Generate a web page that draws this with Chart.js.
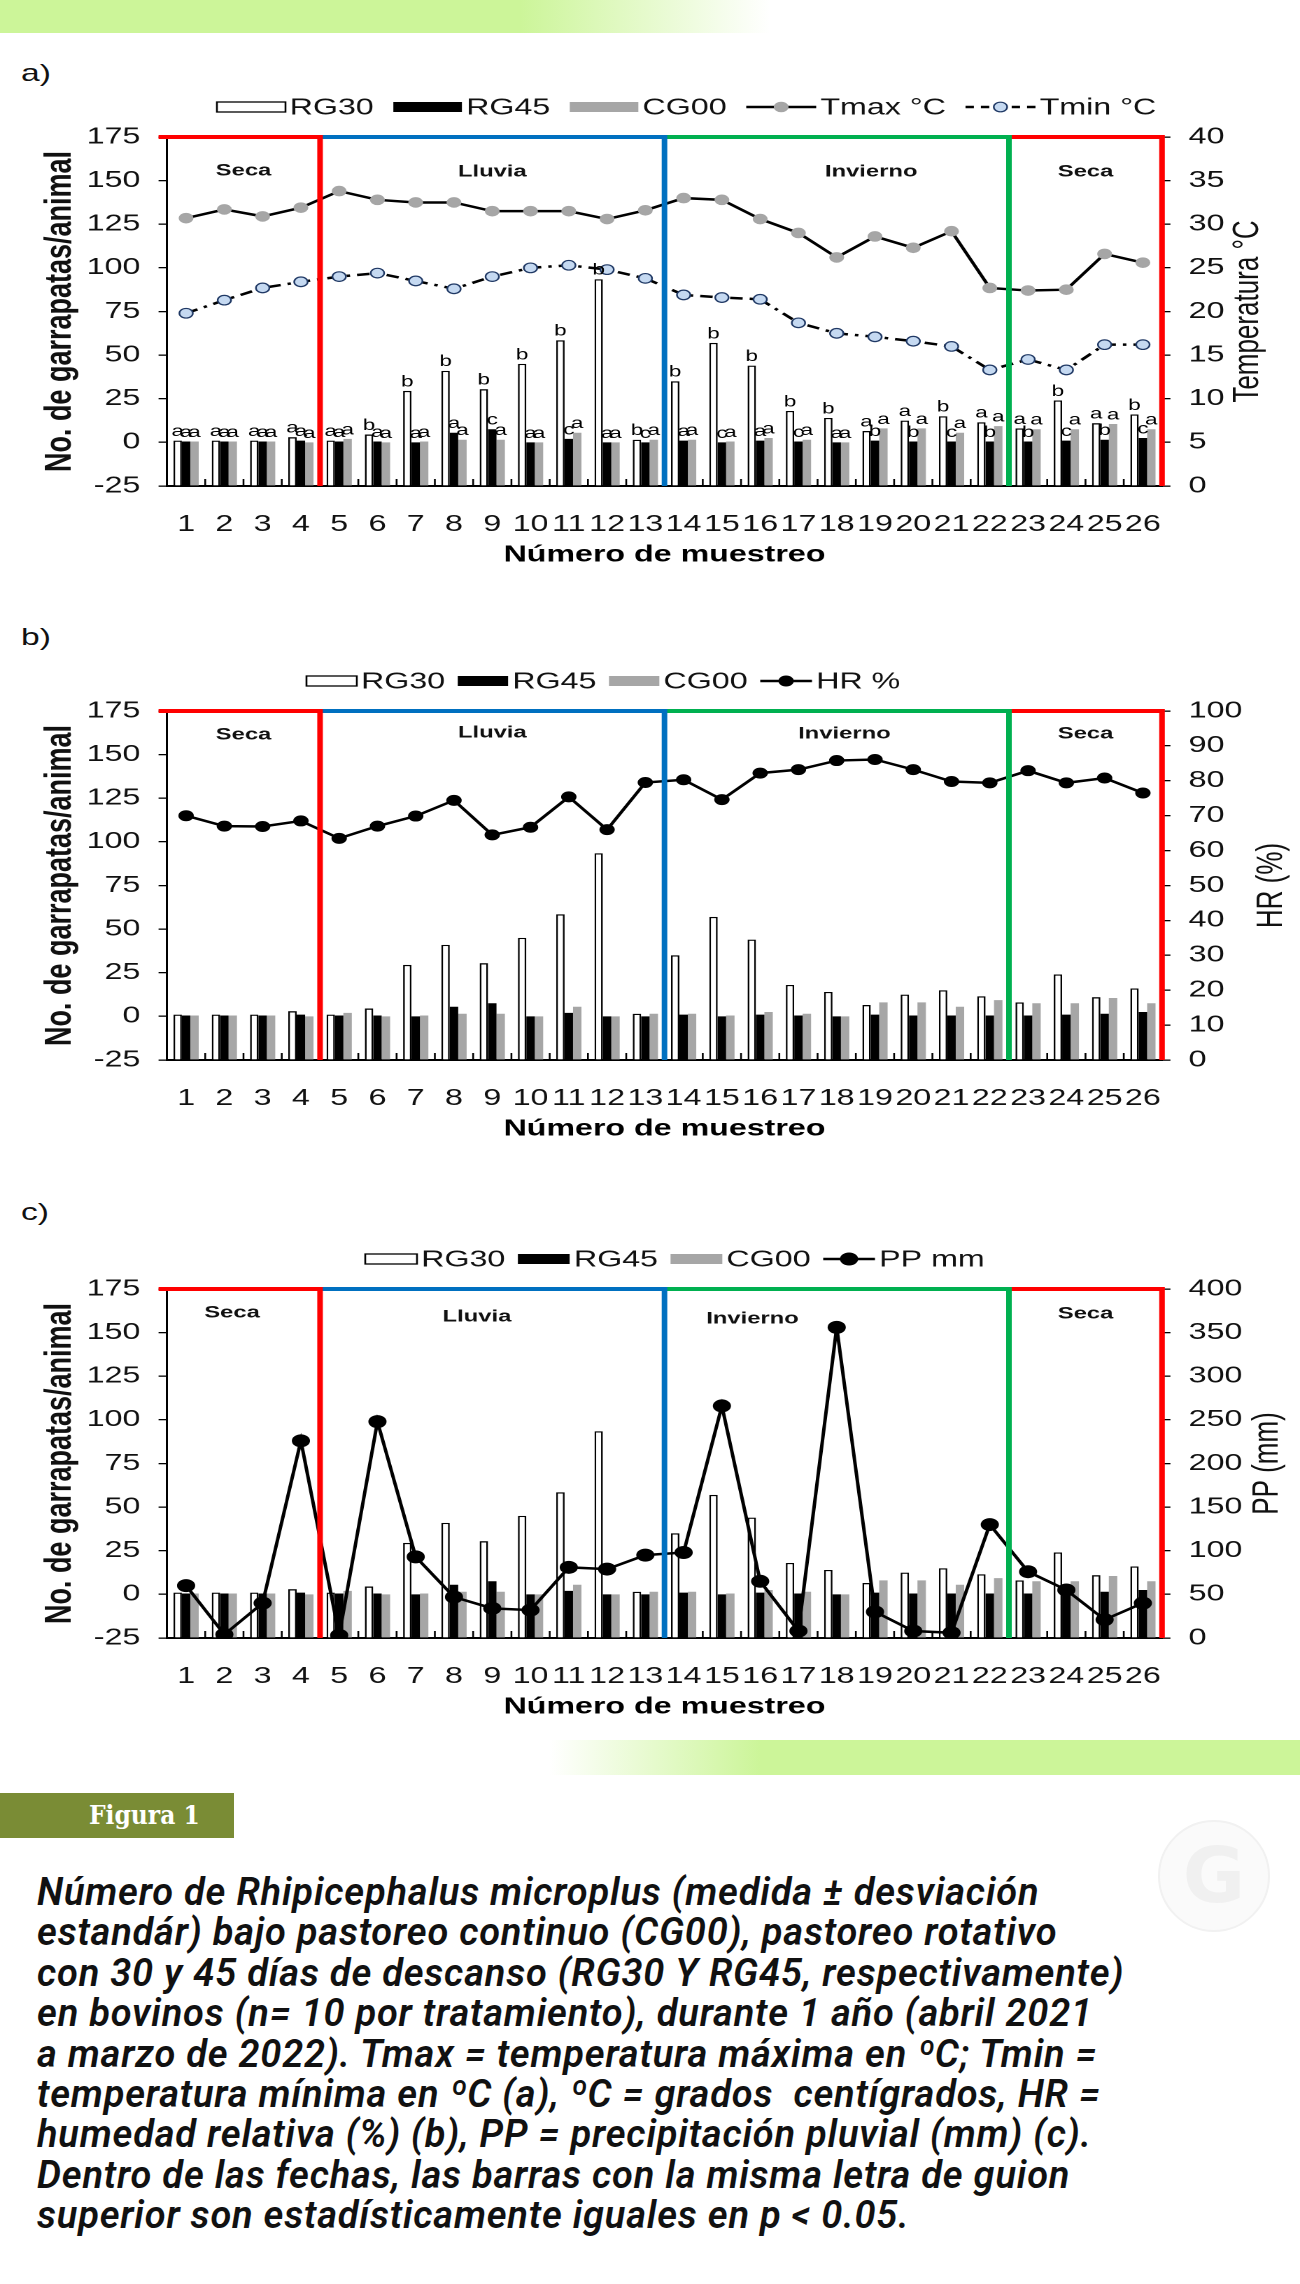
<!DOCTYPE html>
<html lang="es">
<head>
<meta charset="utf-8">
<title>Figura 1 - Rhipicephalus microplus</title>
<script src="https://cdn.jsdelivr.net/npm/chart.js@4.4.1/dist/chart.umd.min.js"></script>
<style>
  html, body { margin: 0; padding: 0; background: #fff; }
  body { width: 1300px; height: 2284px; position: relative; overflow: hidden; font-family: 'Liberation Sans', Arial, sans-serif; }
  #bandTop { position: absolute; left: 0; top: 0; width: 1300px; height: 33px;
    background: linear-gradient(to right, rgb(204,245,153) 0px, rgb(204,245,153) 520px, rgba(204,245,153,0) 770px); }
  #bandBottom { position: absolute; left: 0; top: 1740px; width: 1300px; height: 35px;
    background: linear-gradient(to right, rgba(204,245,153,0) 550px, rgb(204,245,153) 760px); }
  .panelLabel { position: absolute; left: 21px; font-size: 24px; line-height: 28px; color: #111;
    transform: scaleX(1.4); transform-origin: left center; }
  canvas.panel { position: absolute; left: 0; }
  #fig { position: absolute; left: 0; top: 1793px; width: 234px; height: 45px; background: #7a8c35; color: #fff;
    font-family: 'DejaVu Serif Condensed', 'DejaVu Serif', serif; font-weight: bold; font-size: 26px;
    line-height: 45px; padding-left: 89px; box-sizing: border-box; }
  #mark { position: absolute; left: 1158px; top: 1820px; width: 108px; height: 108px; border-radius: 50%;
    border: 2px solid #f1f1f1; background: #fafafa; color: #f0f0f0; font: bold 76px 'DejaVu Sans', sans-serif;
    text-align: center; line-height: 108px; }
  #caption { position: absolute; left: 37px; top: 1872px; font-family: Roboto, sans-serif; font-style: italic;
    font-weight: 600; font-size: 38px; letter-spacing: 0.8px; line-height: 40.4px; color: #111; white-space: pre; }
</style>
</head>
<body>
<div id="bandTop"></div>
<div class="panelLabel" style="top:59px">a)</div>
<canvas id="chartA" class="panel" width="929" height="499" style="top:77px;width:1300px;height:499px"></canvas>
<div class="panelLabel" style="top:623px">b)</div>
<canvas id="chartB" class="panel" width="929" height="499" style="top:651px;width:1300px;height:499px"></canvas>
<div class="panelLabel" style="top:1198px">c)</div>
<canvas id="chartC" class="panel" width="929" height="499" style="top:1229px;width:1300px;height:499px"></canvas>
<div id="bandBottom"></div>
<div id="fig">Figura 1</div>
<div id="mark">G</div>
<div id="caption">Número de Rhipicephalus microplus (medida ± desviación
estandár) bajo pastoreo continuo (CG00), pastoreo rotativo
con 30 y 45 días de descanso (RG30 Y RG45, respectivamente)
en bovinos (n= 10 por tratamiento), durante 1 año (abril 2021
a marzo de 2022). Tmax = temperatura máxima en ºC; Tmin =
temperatura mínima en ºC (a), ºC = grados  centígrados, HR =
humedad relativa (%) (b), PP = precipitación pluvial (mm) (c).
Dentro de las fechas, las barras con la misma letra de guion
superior son estadísticamente iguales en p &lt; 0.05.</div>

<script>
// sampling number (x axis)
const categories = ['1', '2', '3', '4', '5', '6', '7', '8', '9', '10', '11', '12', '13',
                    '14', '15', '16', '17', '18', '19', '20', '21', '22', '23', '24', '25', '26'];

// ticks per animal
const rg30 = [1, 1, 1, 3, 1, 4.5, 29.5, 41, 30.5, 45, 58.5, 93.5, 1.5, 35, 57, 44, 18, 14, 6.5, 12.5, 15, 11.5, 8, 24, 11, 16];
const rg45 = [0.5, 0.5, 0.5, 1, 0.5, 0.5, 0, 5.5, 7.5, 0, 2, 0, 0, 1, 0, 1, 0.5, 0, 1, 0.5, 0.5, 0.5, 0.5, 1, 1.5, 2.5];
const cg00 = [0.5, 0.5, 0.5, 0, 2, 0, 0.5, 1.5, 1.5, 0, 5.5, 0, 1.5, 1.5, 0.5, 2.5, 1.5, 0, 8, 8, 5.5, 9.3, 7.5, 7.5, 10.5, 7.5];

// significance letters (panel a)
const letters30 = ['a', 'a', 'a', 'a', 'a', 'b', 'b', 'b', 'b', 'b', 'b', 'b', 'b', 'b', 'b', 'b', 'b', 'b', 'a', 'a', 'b', 'a', 'a', 'b', 'a', 'b'];
const letters45 = ['a', 'a', 'a', 'a', 'a', 'a', 'a', 'a', 'c', 'a', 'c', 'a', 'c', 'a', 'c', 'a', 'c', 'a', 'b', 'b', 'c', 'b', 'b', 'c', 'b', 'c'];
const lettersCG = ['a', 'a', 'a', 'a', 'a', 'a', 'a', 'a', 'a', 'a', 'a', 'a', 'a', 'a', 'a', 'a', 'a', 'a', 'a', 'a', 'a', 'a', 'a', 'a', 'a', 'a'];

// weather
const tmax = [30.7, 31.7, 30.9, 31.9, 33.8, 32.8, 32.5, 32.5, 31.5, 31.5, 31.5, 30.6, 31.6, 33.0, 32.8, 30.6, 29.0, 26.2, 28.6, 27.3, 29.2, 22.7, 22.4, 22.5, 26.6, 25.6];
const tmin = [19.8, 21.3, 22.7, 23.4, 24.0, 24.4, 23.5, 22.6, 24.0, 25.0, 25.3, 24.8, 23.8, 21.9, 21.6, 21.4, 18.7, 17.5, 17.1, 16.6, 16.0, 13.3, 14.5, 13.3, 16.2, 16.2];
const hr = [70, 67, 66.9, 68.5, 63.5, 67, 69.9, 74.4, 64.5, 66.7, 75.4, 66, 79.5, 80.3, 74.6, 82.2, 83.2, 85.8, 86.1, 83.2, 79.8, 79.4, 82.9, 79.4, 80.8, 76.5];
const pp = [60, 4, 40, 226, 3, 248, 93, 47, 34, 32, 81, 79, 95, 98, 266, 65, 8, 356, 30, 8, 6, 130, 76, 55, 21, 40];

// seasons: name, last sample of the season, colour
const seasonNames = ['Seca', 'Lluvia', 'Invierno', 'Seca'];
const seasonEnds = [4, 13, 22, 26];
const seasonColors = ['#ff0000', '#0070c0', '#00b050', '#ff0000'];

// axis ranges
const countTicks = { min: -25, max: 175, step: 25 };
const tempTicks = { min: 0, max: 40, step: 5 };
const hrTicks = { min: 0, max: 100, step: 10 };
const ppTicks = { min: 0, max: 400, step: 50 };

const FONT = "'Liberation Sans', Arial, sans-serif";
const CANVAS_W = 929;       // drawn narrow, then stretched to 1300px like the original figure
const PLOT_LEFT = 119.3;
const PLOT_RIGHT = 830.4;

const panelDeco = {
  id: 'panelDeco',
  afterDatasetsDraw(chart, args, opts) {
    const { ctx, chartArea: a, scales: { x } } = chart;
    const w = x.getPixelForValue(1) - x.getPixelForValue(0);
    ctx.save();

    // little inside ticks between samples
    ctx.strokeStyle = '#000';
    ctx.lineWidth = 1.3;
    for (let i = 0; i < categories.length - 1; i++) {
      const px = x.getPixelForValue(i) + w / 2;
      ctx.beginPath();
      ctx.moveTo(px, a.bottom);
      ctx.lineTo(px, a.bottom - 7);
      ctx.stroke();
    }

    // letters above bars
    if (opts.letters) {
      ctx.fillStyle = '#000';
      ctx.font = '16px ' + FONT;
      ctx.textAlign = 'center';
      ctx.textBaseline = 'bottom';
      chart.data.datasets.forEach((ds, i) => {
        if (!ds.letters) return;
        chart.getDatasetMeta(i).data.forEach((el, j) => {
          ctx.fillText(ds.letters[j], el.x, el.y - 1);
        });
      });
    }

    // season frames
    let start = 0;
    const spans = seasonEnds.map((end, k) => {
      const x0 = k === 0 ? a.left - 6 : x.getPixelForValue(start) - w / 2;
      const x1 = x.getPixelForValue(end - 1) + w / 2;
      start = end;
      return [x0, x1];
    });
    ctx.lineWidth = 4;
    spans.forEach(([x0, x1], k) => {
      ctx.strokeStyle = seasonColors[k];
      ctx.beginPath();
      ctx.moveTo(x0, a.top);
      ctx.lineTo(x1, a.top);
      ctx.stroke();
    });
    spans.forEach(([x0, x1], k) => {
      ctx.strokeStyle = seasonColors[k];
      ctx.beginPath();
      ctx.moveTo(x1, a.top - 2);
      ctx.lineTo(x1, a.bottom);
      ctx.stroke();
    });

    // season names
    ctx.fillStyle = '#111';
    ctx.font = 'bold 17px ' + FONT;
    ctx.textAlign = 'center';
    ctx.textBaseline = 'middle';
    opts.seasonLabels.forEach(([idx, dy], k) => {
      ctx.fillText(seasonNames[k], x.getPixelForValue(idx), a.top + dy);
    });
    ctx.restore();
  },
  afterDraw(chart, args, opts) {
    const { ctx, chartArea: a } = chart;
    ctx.save();

    // right axis title, reads bottom to top
    ctx.translate(opts.rightTitleX, (a.top + a.bottom) / 2);
    ctx.rotate(-Math.PI / 2);
    ctx.fillStyle = '#111';
    ctx.font = '26px ' + FONT;
    ctx.textAlign = 'center';
    ctx.textBaseline = 'middle';
    ctx.fillText(opts.rightTitle, 0, 0);
    ctx.restore();

    // legend
    ctx.save();
    const y = a.top - 30;
    let cx = opts.legendX;
    ctx.font = '23px ' + FONT;
    ctx.textBaseline = 'middle';
    ctx.textAlign = 'left';
    chart.data.datasets.forEach(ds => {
      if (ds.type === 'bar') {
        ctx.fillStyle = ds.backgroundColor;
        ctx.fillRect(cx, y - 5, opts.boxW, 10);
        if (ds.borderWidth) {
          ctx.strokeStyle = ds.borderColor;
          ctx.lineWidth = 1.3;
          ctx.strokeRect(cx, y - 5, opts.boxW, 10);
        }
        cx += opts.boxW;
      } else {
        ctx.strokeStyle = ds.borderColor;
        ctx.lineWidth = 2.5;
        ctx.setLineDash(ds.borderDash ? [6, 5] : []);
        ctx.beginPath();
        ctx.moveTo(cx, y);
        ctx.lineTo(cx + opts.lineW, y);
        ctx.stroke();
        ctx.setLineDash([]);
        ctx.beginPath();
        ctx.arc(cx + opts.lineW / 2, y, ds.pointRadius, 0, Math.PI * 2);
        ctx.fillStyle = ds.pointBackgroundColor;
        ctx.fill();
        ctx.lineWidth = ds.pointBorderWidth;
        ctx.strokeStyle = ds.pointBorderColor;
        ctx.stroke();
        cx += opts.lineW;
      }
      cx += 3;
      ctx.fillStyle = '#111';
      ctx.fillText(ds.label, cx, y + 1);
      cx += ctx.measureText(ds.label).width + opts.gap;
    });
    ctx.restore();
  }
};

function barDatasets() {
  return [
    { type: 'bar', label: 'RG30', data: rg30, yAxisID: 'y', backgroundColor: '#ffffff', borderColor: '#000000', borderWidth: 1.3, base: -25, order: 2, letters: letters30 },
    { type: 'bar', label: 'RG45', data: rg45, yAxisID: 'y', backgroundColor: '#000000', borderColor: '#000000', borderWidth: 0, base: -25, order: 2, letters: letters45 },
    { type: 'bar', label: 'CG00', data: cg00, yAxisID: 'y', backgroundColor: '#a6a6a6', borderColor: '#a6a6a6', borderWidth: 0, base: -25, order: 2, letters: lettersCG }
  ];
}

function lineSet(label, data, extra) {
  return Object.assign({
    type: 'line', label: label, data: data, yAxisID: 'y1', order: 1,
    borderColor: '#000000', borderWidth: 2.5, tension: 0, fill: false,
    pointRadius: 5, pointBackgroundColor: '#000000', pointBorderColor: '#000000', pointBorderWidth: 1
  }, extra || {});
}

function makePanel(id, lines, right, deco) {
  const tickFont = { size: 23, family: FONT };
  new Chart(document.getElementById(id), {
    type: 'bar',
    data: { labels: categories, datasets: barDatasets().concat(lines) },
    options: {
      responsive: false,
      devicePixelRatio: 2,
      animation: false,
      layout: { padding: { top: 60, left: 0, right: 0, bottom: 0 } },
      datasets: { bar: { categoryPercentage: 0.66, barPercentage: 1.0 } },
      plugins: { legend: { display: false }, tooltip: { enabled: false }, panelDeco: deco },
      scales: {
        x: {
          offset: true,
          grid: { display: false },
          border: { display: true, color: '#000', width: 2 },
          ticks: { color: '#111', font: tickFont, padding: 17, maxRotation: 0, minRotation: 0, autoSkip: false },
          title: { display: true, text: 'Número de muestreo', color: '#000', font: { size: 23, weight: 'bold', family: FONT }, padding: { top: 0, bottom: 7 } },
          afterFit: s => { s.height = 90; }
        },
        y: {
          position: 'left',
          min: countTicks.min, max: countTicks.max,
          ticks: { stepSize: countTicks.step, color: '#111', font: tickFont, padding: 13 },
          grid: { drawOnChartArea: false, drawTicks: true, tickLength: 6, color: '#000', lineWidth: 1.3 },
          border: { color: '#000', width: 1.5 },
          title: { display: true, text: 'No. de garrapatas/animal', color: '#111', font: { size: 27, weight: 'bold', family: FONT }, padding: { top: 27, bottom: 0 } },
          afterFit: s => { s.width = PLOT_LEFT; }
        },
        y1: {
          position: 'right',
          min: right.min, max: right.max,
          ticks: { stepSize: right.step, color: '#111', font: tickFont, padding: 13 },
          grid: { drawOnChartArea: false, drawTicks: true, tickLength: 6, color: '#000', lineWidth: 1.3 },
          border: { color: '#000', width: 1.5 },
          afterFit: s => { s.width = CANVAS_W - PLOT_RIGHT; }
        }
      }
    },
    plugins: [panelDeco]
  });
}

makePanel('chartA', [
  lineSet('Tmax °C', tmax, { pointRadius: 4.8, pointBackgroundColor: '#a6a6a6', pointBorderColor: '#a6a6a6' }),
  lineSet('Tmin °C', tmin, { pointRadius: 4.8, borderDash: [9, 5, 2.5, 5], pointBackgroundColor: '#c5d9f1', pointBorderColor: '#1f3864', pointBorderWidth: 1.2 })
], tempTicks, {
  letters: true, rightTitle: 'Temperatura °C', rightTitleX: 892,
  legendX: 155, boxW: 49, lineW: 50, gap: 14,
  seasonLabels: [[1.5, 34], [8, 35], [17.9, 35], [23.5, 35]]
});

makePanel('chartB', [
  lineSet('HR %', hr)
], hrTicks, {
  letters: false, rightTitle: 'HR (%)', rightTitleX: 909,
  legendX: 219, boxW: 36, lineW: 37, gap: 9,
  seasonLabels: [[1.5, 24], [8, 22], [17.2, 23], [23.5, 23]]
});

makePanel('chartC', [
  lineSet('PP mm', pp, { pointRadius: 6 })
], ppTicks, {
  letters: false, rightTitle: 'PP (mm)', rightTitleX: 906,
  legendX: 261, boxW: 37, lineW: 37, gap: 9,
  seasonLabels: [[1.2, 24], [7.6, 28], [14.8, 30], [23.5, 25]]
});
</script>
</body>
</html>
